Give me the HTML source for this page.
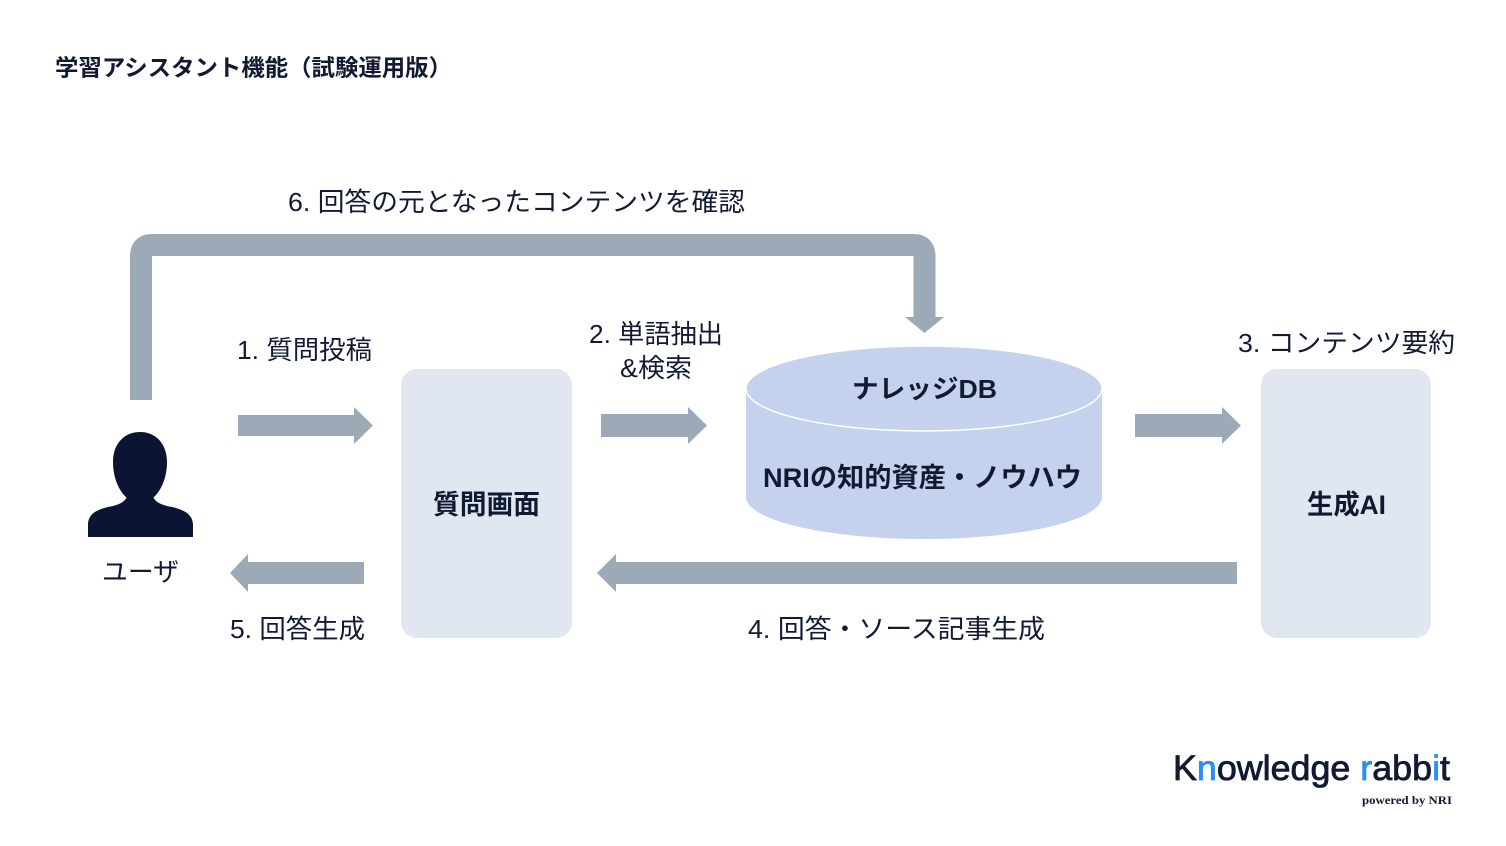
<!DOCTYPE html>
<html>
<head>
<meta charset="utf-8">
<style>
  html, body { margin: 0; padding: 0; background: #ffffff; }
  body { width: 1506px; height: 846px; overflow: hidden; }
  svg { display: block; }
  .t { font-family: "Liberation Sans", "Noto Sans CJK JP", sans-serif; fill: #111a33; }
  .b { font-weight: bold; }
</style>
</head>
<body>
<svg width="1506" height="846" viewBox="0 0 1506 846" xmlns="http://www.w3.org/2000/svg">
  <rect x="0" y="0" width="1506" height="846" fill="#ffffff"/>

  <!-- Title -->
  <text class="t b" x="55" y="67.5" font-size="23" dominant-baseline="central" textLength="397" lengthAdjust="spacingAndGlyphs">学習アシスタント機能（試験運用版）</text>

  <!-- Top loop arrow (6) -->
  <path d="M141,400 L141,256 Q141,245 152,245 L913.5,245 Q924.5,245 924.5,256 L924.5,318" fill="none" stroke="#9caab8" stroke-width="22"/>
  <polygon points="905,317 944,317 924.5,333" fill="#9caab8"/>
  <text class="t" x="288" y="202" font-size="26" dominant-baseline="central" textLength="457" lengthAdjust="spacingAndGlyphs">6. 回答の元となったコンテンツを確認</text>

  <!-- Boxes -->
  <rect x="401" y="369" width="171" height="269" rx="16" ry="16" fill="#e1e7f0"/>
  <text class="t b" x="486.5" y="505" font-size="27" text-anchor="middle" dominant-baseline="central" textLength="107" lengthAdjust="spacingAndGlyphs">質問画面</text>

  <rect x="1261" y="369" width="170" height="269" rx="16" ry="16" fill="#e1e7f0"/>
  <text class="t b" x="1346.5" y="505" font-size="27" text-anchor="middle" dominant-baseline="central" textLength="79" lengthAdjust="spacingAndGlyphs">生成AI</text>

  <!-- Cylinder -->
  <path d="M746,388.5 L746,497 A178,42 0 0 0 1102,497 L1102,388.5 A178,42.5 0 0 0 746,388.5 Z" fill="#c5d2ee"/>
  <ellipse cx="924" cy="388.5" rx="178" ry="42.5" fill="#c5d2ee" stroke="#ffffff" stroke-width="1.5"/>
  <text class="t b" x="924.5" y="389" font-size="26" text-anchor="middle" dominant-baseline="central" textLength="145" lengthAdjust="spacingAndGlyphs">ナレッジDB</text>
  <text class="t b" x="922.5" y="478" font-size="27" text-anchor="middle" dominant-baseline="central" textLength="319" lengthAdjust="spacingAndGlyphs">NRIの知的資産・ノウハウ</text>

  <!-- Arrows right -->
  <polygon points="238,415 354,415 354,407 373,425.5 354,444 354,436 238,436" fill="#9caab8"/>
  <polygon points="601,414 688,414 688,407 707,425.5 688,444 688,437 601,437" fill="#9caab8"/>
  <polygon points="1135,414 1222,414 1222,407 1241,425.5 1222,444 1222,437 1135,437" fill="#9caab8"/>

  <!-- Arrows left -->
  <polygon points="364,562 248,562 248,554 230,573 248,592 248,584 364,584" fill="#9caab8"/>
  <polygon points="1237,562 616,562 616,554 597,573 616,592 616,584 1237,584" fill="#9caab8"/>

  <!-- Labels -->
  <text class="t" x="237" y="350" font-size="26" dominant-baseline="central" textLength="135" lengthAdjust="spacingAndGlyphs">1. 質問投稿</text>
  <text class="t" x="589" y="334" font-size="26" dominant-baseline="central" textLength="134" lengthAdjust="spacingAndGlyphs">2. 単語抽出</text>
  <text class="t" x="620" y="368" font-size="26" dominant-baseline="central" textLength="72" lengthAdjust="spacingAndGlyphs">&amp;検索</text>
  <text class="t" x="1238" y="343" font-size="26" dominant-baseline="central" textLength="217" lengthAdjust="spacingAndGlyphs">3. コンテンツ要約</text>
  <text class="t" x="748" y="629" font-size="26" dominant-baseline="central" textLength="297" lengthAdjust="spacingAndGlyphs">4. 回答・ソース記事生成</text>
  <text class="t" x="230" y="629" font-size="26" dominant-baseline="central" textLength="135" lengthAdjust="spacingAndGlyphs">5. 回答生成</text>
  <text class="t" x="102" y="572" font-size="26" dominant-baseline="central" textLength="77" lengthAdjust="spacingAndGlyphs">ユーザ</text>

  <!-- Person icon -->
  <g fill="#0b1533">
    <path d="M140,432 C124,432 113,444 113,462 C113,478 119,491 127,498 C131,502 149,502 153,498 C161,491 167,478 167,462 C167,444 156,432 140,432 Z"/>
    <path d="M88,537 L88,525 C88,515 95,510 108,507 C119,505 126,502 128,494 L152,494 C154,502 161,505 172,507 C185,510 193,515 193,525 L193,537 Z"/>
  </g>

  <!-- Logo -->
  <text x="1173" y="780" font-family="Liberation Sans, sans-serif" font-size="35" fill="#111a33" stroke="#111a33" stroke-width="0.8" textLength="277" lengthAdjust="spacingAndGlyphs">K<tspan fill="#2b8ef2" stroke="#2b8ef2">n</tspan>owledge <tspan fill="#2b8ef2" stroke="#2b8ef2">r</tspan>abb<tspan fill="#2b8ef2" stroke="#2b8ef2">i</tspan>t</text>
  <text x="1452" y="804" font-family="Liberation Serif, serif" font-weight="bold" font-size="12" fill="#111a33" text-anchor="end" textLength="90" lengthAdjust="spacingAndGlyphs">powered by NRI</text>
</svg>
</body>
</html>
